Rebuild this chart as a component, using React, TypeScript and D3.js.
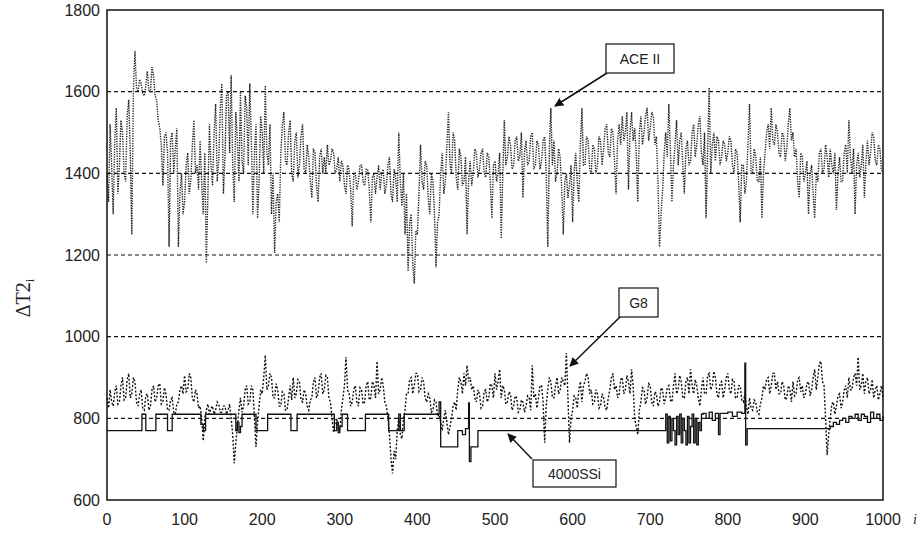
import React from "react";
import * as d3 from "d3";

// sample index step for the ACE II and G8 series (i = 0, 2, 4, ..., 1000)
const STEP = 2;

const aceII = [
  1400, 1330, 1520, 1420, 1300, 1480, 1560, 1350, 1420, 1530, 1500, 1400, 1380, 1540, 1580, 1450, 1250, 1600, 1700, 1610,
  1600, 1630, 1620, 1595, 1590, 1615, 1650, 1600, 1600, 1660, 1640, 1590, 1580, 1530, 1510, 1470, 1370, 1490, 1500, 1450,
  1220, 1480, 1500, 1400, 1460, 1510, 1220, 1350, 1400, 1300, 1330, 1420, 1450, 1350, 1380, 1470, 1530, 1400, 1420, 1360,
  1480, 1380, 1300, 1450, 1180, 1350, 1520, 1420, 1370, 1500, 1570, 1380, 1430, 1560, 1620, 1350, 1440, 1590, 1600, 1450,
  1640, 1420, 1330, 1550, 1480, 1380, 1600, 1430, 1400, 1590, 1560, 1420, 1620, 1480, 1300, 1450, 1520, 1290, 1380, 1540,
  1500, 1400, 1615, 1450, 1420, 1520, 1300, 1400, 1205, 1330, 1350, 1280, 1450, 1520, 1550, 1430, 1420, 1500, 1530, 1400,
  1380, 1480, 1500, 1390, 1420, 1490, 1520, 1410, 1400, 1470, 1440, 1380, 1340, 1460, 1450, 1370, 1330, 1440, 1460, 1400,
  1440, 1400, 1470, 1420, 1430, 1460, 1450, 1400, 1410, 1440, 1380, 1430, 1420, 1370, 1350, 1420, 1410, 1360, 1270, 1400,
  1400, 1360, 1380, 1420, 1420, 1380, 1370, 1410, 1410, 1360, 1280, 1390, 1400, 1350, 1390, 1420, 1360, 1400, 1410, 1350,
  1370, 1420, 1440, 1350, 1330, 1410, 1390, 1330, 1500, 1380, 1320, 1400, 1250, 1350, 1160, 1280, 1300, 1180, 1130, 1260,
  1250, 1350, 1470, 1380, 1360, 1430, 1420, 1340, 1300, 1400, 1380, 1300, 1170, 1280, 1300, 1400, 1450, 1350, 1380, 1470,
  1550, 1420, 1400, 1500, 1480, 1390, 1360, 1460, 1440, 1370, 1380, 1440, 1250, 1380, 1430, 1370, 1400, 1460, 1450, 1390,
  1410, 1450, 1460, 1400, 1390, 1450, 1440, 1380, 1290, 1420, 1430, 1380, 1400, 1450, 1240, 1400, 1530, 1420, 1440, 1490,
  1470, 1410, 1420, 1480, 1490, 1430, 1440, 1500, 1340, 1450, 1480, 1420, 1430, 1490, 1500, 1410, 1420, 1480, 1470, 1410,
  1430, 1480, 1490, 1400, 1220, 1450, 1560, 1420, 1480, 1380, 1400, 1460, 1440, 1360, 1250, 1380, 1400, 1340, 1370, 1420,
  1280, 1400, 1450, 1380, 1330, 1470, 1560, 1420, 1420, 1490, 1480, 1410, 1400, 1470, 1460, 1400, 1420, 1490, 1480, 1420,
  1460, 1510, 1520, 1450, 1440, 1510, 1500, 1430, 1350, 1480, 1520, 1470, 1540, 1480, 1500, 1550, 1360, 1500, 1550, 1480,
  1510, 1450, 1330, 1500, 1540, 1470, 1500, 1540, 1560, 1480, 1510, 1550, 1540, 1470, 1490, 1380, 1220, 1300, 1360, 1450,
  1500, 1440, 1570, 1460, 1330, 1420, 1470, 1530, 1420, 1480, 1500, 1420, 1350, 1460, 1480, 1420, 1430, 1500, 1520, 1440,
  1470, 1520, 1540, 1450, 1420, 1500, 1290, 1450, 1610, 1400, 1470, 1500, 1430, 1490, 1480, 1420, 1440, 1480, 1470, 1430,
  1450, 1490, 1480, 1420, 1400, 1460, 1450, 1380, 1280, 1420, 1420, 1350, 1380, 1470, 1570, 1400, 1400, 1460, 1440, 1380,
  1380, 1440, 1290, 1400, 1450, 1500, 1520, 1460, 1560, 1480, 1470, 1520, 1500, 1450, 1440, 1500, 1490, 1430, 1460, 1520,
  1560, 1480, 1500, 1440, 1460, 1380, 1340, 1450, 1440, 1380, 1400, 1430, 1300, 1400, 1420, 1350, 1290, 1400, 1380, 1450,
  1460, 1400, 1410, 1470, 1440, 1390, 1460, 1420, 1400, 1450, 1310, 1400, 1440, 1380, 1380, 1450, 1470, 1400, 1530, 1440,
  1400, 1460, 1300, 1420, 1450, 1390, 1420, 1470, 1340, 1430, 1480, 1420, 1450, 1500, 1490, 1430, 1420, 1470, 1460, 1410,
  1400,
];

const g8 = [
  850, 825, 870, 840, 830, 865, 880, 835, 840, 880, 900, 845, 850, 895, 910, 850, 860, 900, 890, 840,
  830, 860, 870, 825, 820, 855, 860, 820, 830, 870, 880, 840, 850, 880, 885, 835, 840, 875, 860, 820,
  820, 845, 850, 815, 810, 835, 840, 870, 880, 860, 905, 865, 870, 910, 900, 850, 840, 870, 860, 825,
  830, 800, 745, 800, 820, 835, 810, 825, 830, 810, 820, 840, 835, 815, 815, 830, 830, 810, 820, 835,
  800, 760, 690, 740, 780, 820, 850, 815, 830, 870, 880, 835, 840, 880, 870, 800, 730, 790, 830, 870,
  860, 900, 955, 870, 880, 910, 900, 850, 850, 885, 870, 830, 830, 865, 860, 820, 820, 850, 880, 845,
  900, 850, 860, 895, 890, 845, 840, 870, 860, 830, 820, 845, 850, 890, 900, 850, 860, 900, 910, 860,
  870, 905, 900, 850, 840, 800, 765, 790, 800, 780, 770, 820, 850, 880, 950, 870, 860, 830, 840, 870,
  880, 840, 830, 875, 870, 835, 840, 880, 890, 845, 850, 890, 880, 850, 940, 860, 870, 900, 880, 840,
  830, 800, 760, 700, 665, 720, 700, 770, 800, 760, 750, 800, 820, 860, 860, 895, 900, 860, 880, 910,
  910, 865, 870, 900, 890, 850, 840, 860, 850, 815, 820, 845, 840, 805, 810, 790, 770, 800, 820, 790,
  760, 780, 800, 830, 840, 820, 870, 900, 890, 860, 910, 880, 930, 890, 900, 870, 880, 850, 840, 870,
  860, 825, 830, 865, 870, 840, 850, 885, 880, 850, 910, 870, 890, 920, 850, 880, 870, 835, 840, 865,
  860, 820, 830, 855, 850, 815, 820, 845, 840, 815, 830, 855, 850, 820, 930, 850, 860, 825, 850, 880,
  880, 840, 740, 830, 870, 900, 890, 850, 850, 880, 900, 860, 870, 900, 890, 880, 960, 850, 740, 800,
  820, 855, 850, 825, 870, 890, 840, 880, 890, 910, 900, 860, 870, 835, 840, 870, 860, 825, 830, 860,
  850, 825, 820, 850, 870, 900, 910, 870, 880, 850, 860, 895, 900, 860, 870, 905, 890, 860, 920, 880,
  800, 780, 760, 820, 840, 875, 870, 835, 850, 885, 880, 840, 830, 865, 860, 830, 840, 875, 870, 835,
  850, 875, 880, 845, 840, 880, 910, 860, 870, 905, 890, 850, 850, 890, 900, 860, 920, 880, 860, 895,
  880, 850, 830, 870, 900, 860, 860, 905, 910, 870, 880, 915, 900, 860, 850, 885, 890, 850, 870, 900,
  910, 870, 860, 895, 890, 850, 850, 880, 880, 845, 840, 860, 830, 810, 850, 825, 820, 845, 840, 815,
  810, 835, 850, 880, 870, 895, 900, 860, 880, 910, 910, 870, 890, 860, 860, 890, 880, 845, 850, 880,
  870, 840, 890, 855, 860, 895, 900, 865, 880, 850, 860, 885, 890, 855, 870, 900, 920, 870, 900, 935,
  940, 890, 880, 800, 710, 760, 800, 835, 840, 810, 830, 855, 860, 825, 840, 870, 880, 850, 900, 870,
  870, 900, 910, 880, 950, 870, 880, 910, 860, 890, 900, 860, 870, 895, 850, 870, 880, 845, 860, 880,
  850,
];

// 4000SSi: step function, change points (i) and the level that starts there
const ssiI = [
  0, 45, 50, 63, 78, 84, 121, 124, 127, 166, 168, 170, 172, 174, 192, 207, 237, 245,
  293, 296, 298, 300, 303, 310, 333, 363, 376, 378, 383, 428, 430, 432, 452, 458, 462,
  466, 467, 469, 478,
  720, 722, 724, 726, 728, 730, 732, 734, 736, 738, 740, 742, 744, 746, 748, 750, 752,
  754, 756, 758, 760, 762, 764, 766,
  768, 772, 776, 780, 784, 788, 790, 800, 806, 812, 818, 822, 823, 825,
  928, 932, 936, 940, 944, 948, 952, 956, 960, 964, 968, 972, 976, 980, 984, 988, 992,
  996, 1000,
];
const ssiV = [
  770, 810, 770, 810, 770, 810, 785, 770, 810, 770, 790, 765, 780, 810, 770, 810, 770, 810,
  770, 790, 765, 780, 810, 770, 810, 770, 810, 770, 810, 840, 730, 730, 770, 760, 775,
  838, 694, 730, 770,
  810, 740, 805, 745, 800, 770, 735, 805, 760, 810, 740, 800, 770, 735, 805, 740, 780,
  810, 740, 800, 735, 790, 770, 810,
  812, 800, 815, 795, 812, 760, 812, 815, 805, 815, 812, 935, 735, 775,
  775, 780, 790, 785, 795, 800, 790, 805, 800, 810, 795, 810, 805, 790, 815, 800, 810,
  795, 805,
];

const yTicks = [600, 800, 1000, 1200, 1400, 1600, 1800];
const xTicks = [0, 100, 200, 300, 400, 500, 600, 700, 800, 900, 1000];
const gridValues = [800, 1000, 1200, 1400, 1600];

export default function App() {
  const W = 923;
  const H = 534;
  const left = 107, right = 883, top = 10, bottom = 500;

  const x = d3.scaleLinear().domain([0, 1000]).range([left, right]);
  const y = d3.scaleLinear().domain([600, 1800]).range([bottom, top]);

  const seriesLine = d3
    .line<number>()
    .x((_, k) => x(k * STEP))
    .y((v) => y(v));

  const ssiPts = ssiI.map((i, k) => [i, ssiV[k]] as [number, number]);
  const ssiLine = d3
    .line<[number, number]>()
    .x((d) => x(d[0]))
    .y((d) => y(d[1]))
    .curve(d3.curveStepAfter);

  const font = "'Liberation Sans', Arial, sans-serif";

  const boxes = [
    { label: "ACE II", bx: 606, by: 44, bw: 68, bh: 29, ax1: 607, ay1: 73, ax2: 555, ay2: 106 },
    { label: "G8", bx: 619, by: 288, bw: 39, bh: 29, ax1: 620, ay1: 317, ax2: 570, ay2: 366 },
    { label: "4000SSi", bx: 533, by: 460, bw: 83, bh: 27, ax1: 532, ay1: 459, ax2: 508, ay2: 434 },
  ];

  return (
    <svg
      width={W}
      height={H}
      style={{ position: "absolute", left: 0, top: 0, background: "#fff" }}
    >
      <defs>
        <marker
          id="arr"
          viewBox="0 0 10 10"
          refX="9"
          refY="5"
          markerWidth="9"
          markerHeight="9"
          markerUnits="userSpaceOnUse"
          orient="auto"
        >
          <path d="M0,0 L10,5 L0,10 z" fill="#111" />
        </marker>
      </defs>
      <rect x={0} y={0} width={W} height={H} fill="#fff" />

      {gridValues.map((g) => (
        <line
          key={g}
          x1={left}
          x2={right}
          y1={y(g)}
          y2={y(g)}
          stroke="#111"
          strokeWidth={1.2}
          strokeDasharray="4,3"
        />
      ))}

      <path
        d={seriesLine(aceII) || ""}
        fill="none"
        stroke="#222"
        strokeWidth={1.4}
        strokeDasharray="1.3,1.2"
      />
      <path
        d={seriesLine(g8) || ""}
        fill="none"
        stroke="#111"
        strokeWidth={1.4}
        strokeDasharray="2,1.8"
      />
      <path d={ssiLine(ssiPts) || ""} fill="none" stroke="#111" strokeWidth={1.3} />

      <rect
        x={left}
        y={top}
        width={right - left}
        height={bottom - top}
        fill="none"
        stroke="#111"
        strokeWidth={1.5}
      />

      {yTicks.map((t) => (
        <text
          key={t}
          x={left - 7}
          y={y(t)}
          dy="0.35em"
          textAnchor="end"
          fontFamily={font}
          fontSize={16}
          fill="#222"
        >
          {t}
        </text>
      ))}
      {xTicks.map((t) => (
        <text
          key={t}
          x={x(t)}
          y={bottom + 25}
          textAnchor="middle"
          fontFamily={font}
          fontSize={16}
          fill="#222"
        >
          {t}
        </text>
      ))}

      <text
        transform="translate(30,298) rotate(-90)"
        textAnchor="middle"
        fontFamily="'Liberation Serif', 'Times New Roman', serif"
        fontSize={20}
        fill="#222"
      >
        ΔT2<tspan fontSize={13} dy="4">i</tspan>
      </text>
      <text
        x={913}
        y={524}
        fontFamily="'Liberation Serif', serif"
        fontStyle="italic"
        fontSize={14}
        fill="#222"
      >
        i
      </text>

      {boxes.map((b) => (
        <g key={b.label}>
          <line
            x1={b.ax1}
            y1={b.ay1}
            x2={b.ax2}
            y2={b.ay2}
            stroke="#111"
            strokeWidth={1.5}
            markerEnd="url(#arr)"
          />
          <rect
            x={b.bx}
            y={b.by}
            width={b.bw}
            height={b.bh}
            fill="#fff"
            stroke="#111"
            strokeWidth={1.2}
          />
          <text
            x={b.bx + b.bw / 2}
            y={b.by + b.bh / 2}
            dy="0.36em"
            textAnchor="middle"
            fontFamily={font}
            fontSize={14}
            fill="#222"
          >
            {b.label}
          </text>
        </g>
      ))}
    </svg>
  );
}
